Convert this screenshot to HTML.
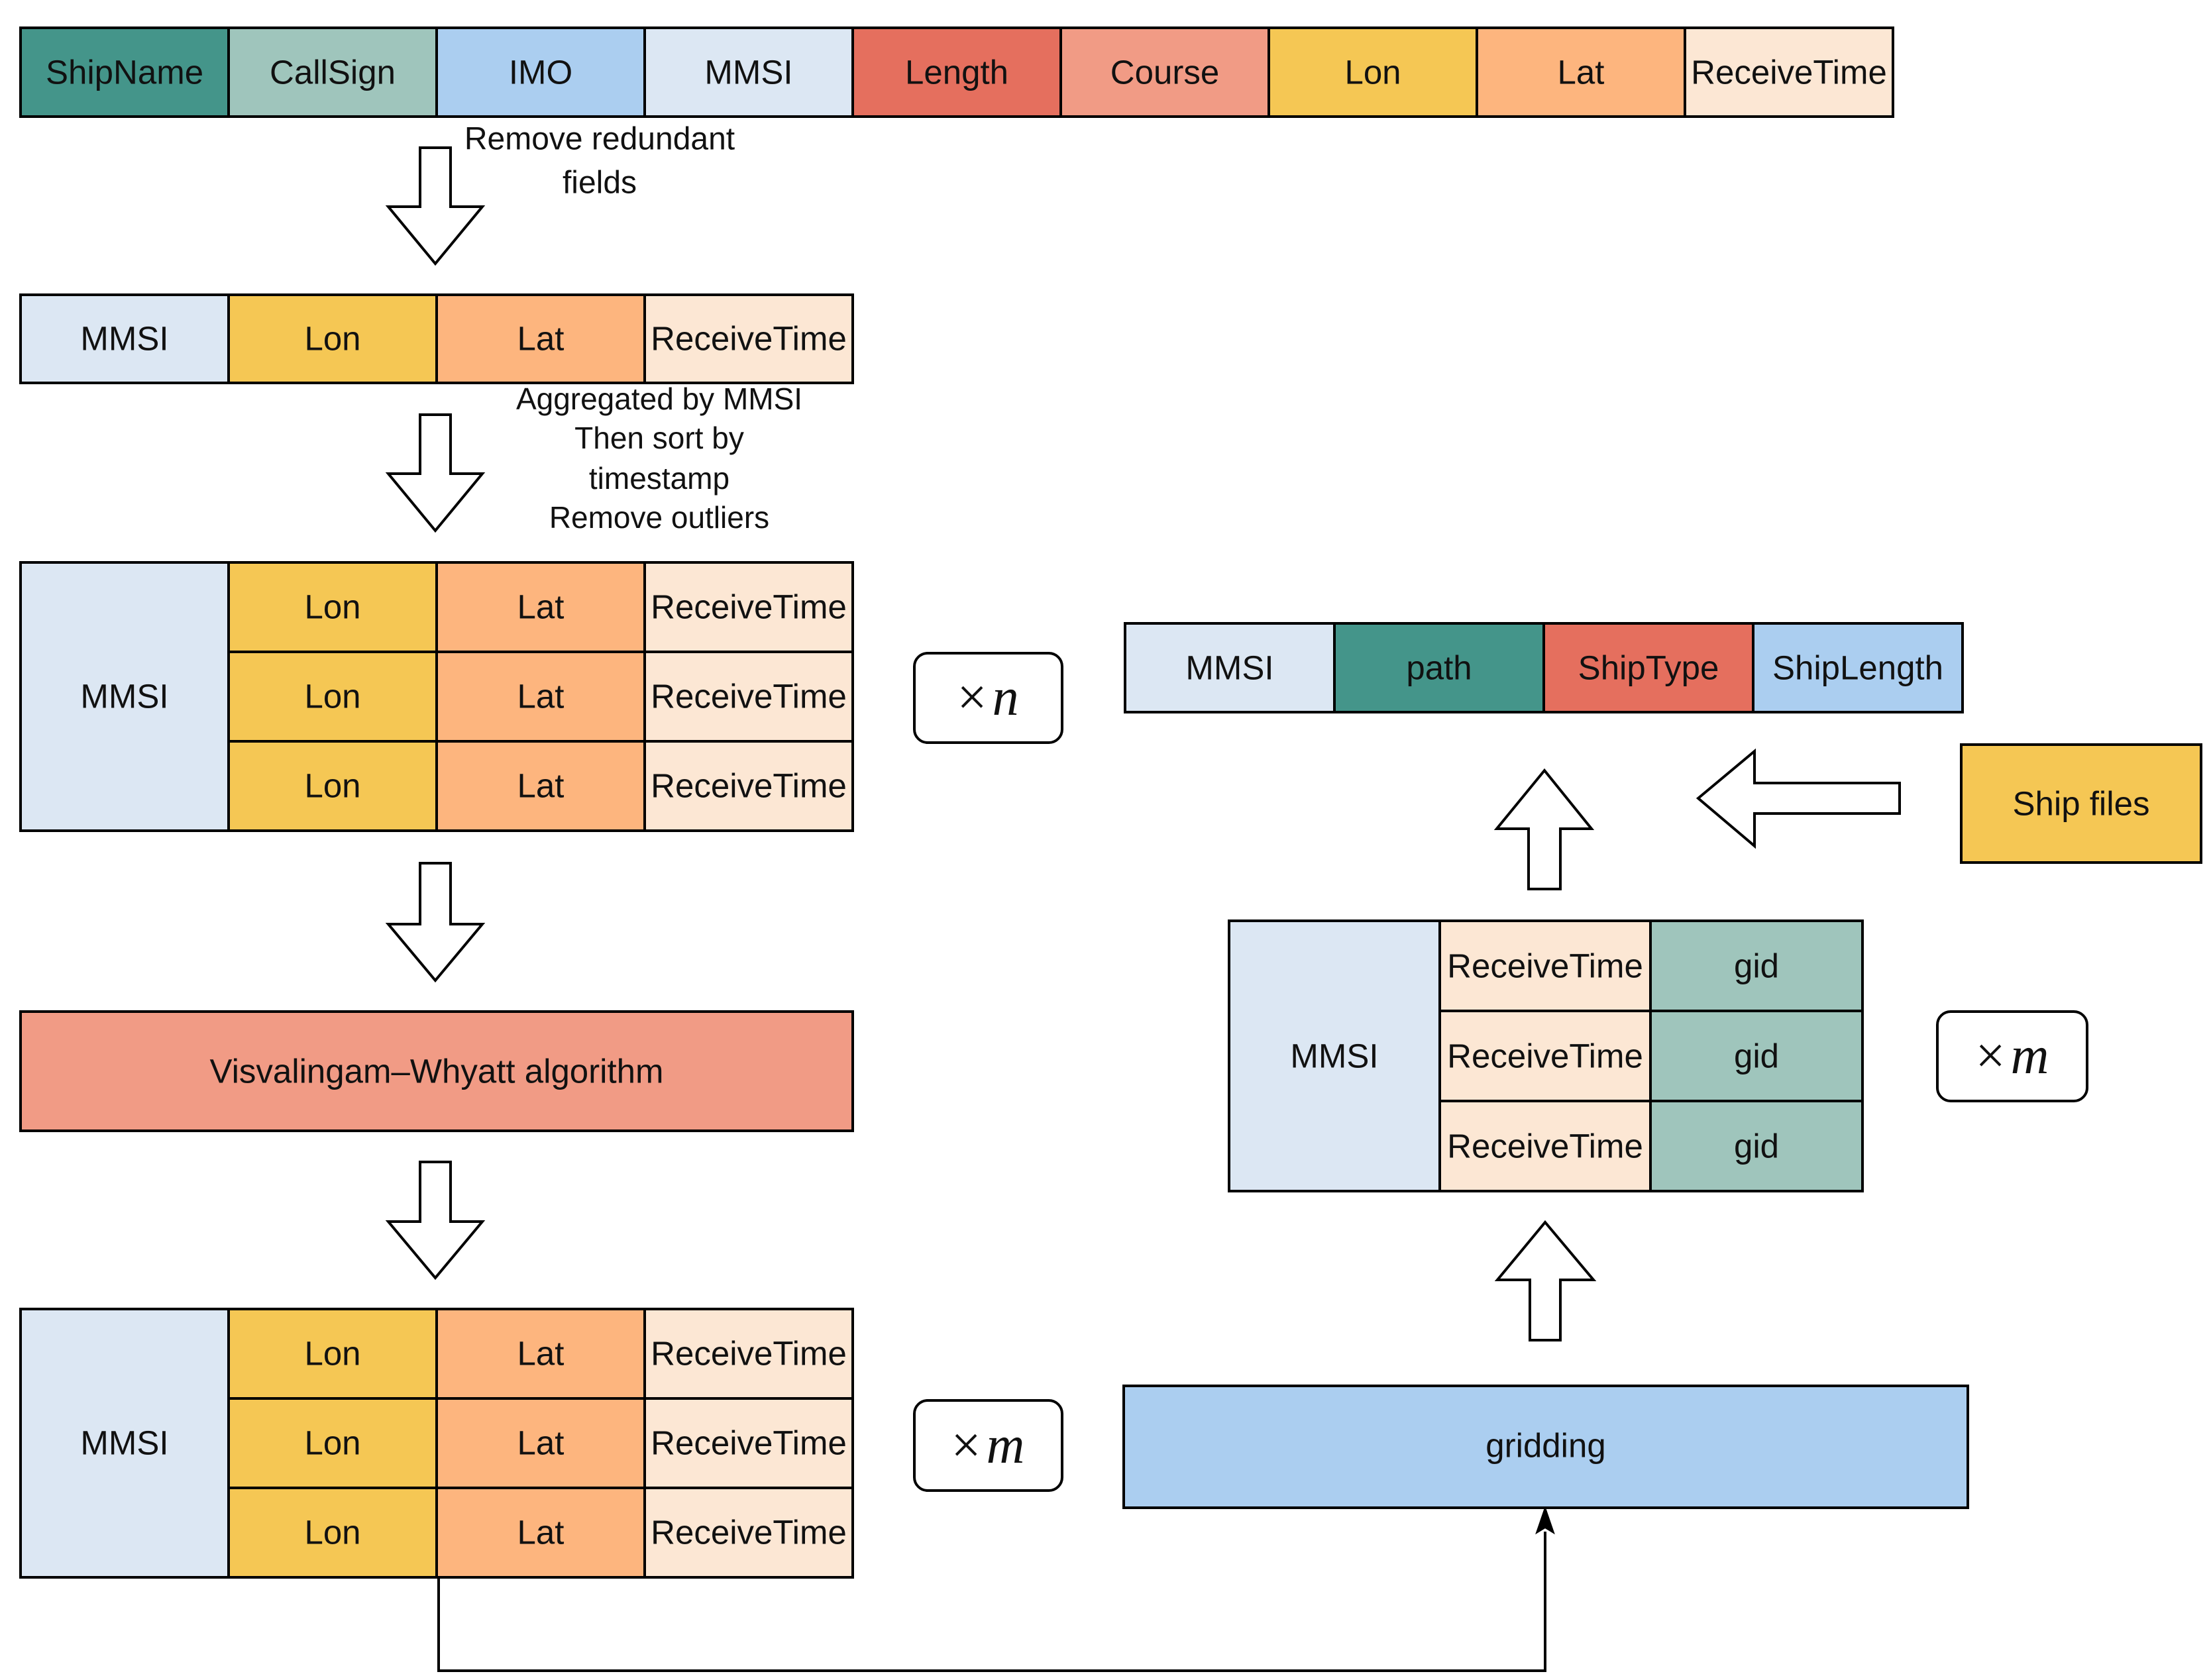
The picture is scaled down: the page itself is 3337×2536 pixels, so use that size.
<!DOCTYPE html>
<html><head><meta charset="utf-8"><style>
html,body{margin:0;padding:0;background:#fff;}
svg{display:block;}
text{font-family:"Liberation Sans",Arial,sans-serif;}
</style></head><body>
<svg width="3337" height="2536" viewBox="0 0 3337 2536" xmlns="http://www.w3.org/2000/svg">
<defs>
<marker id="ah" markerWidth="12" markerHeight="12" refX="10" refY="6" orient="auto" markerUnits="userSpaceOnUse"></marker>
</defs>
<g stroke="#000" stroke-width="4" font-size="51" text-anchor="middle" dominant-baseline="central">
<!-- Row 1 -->
<rect x="31" y="42" width="314" height="134" fill="#44958A"/>
<rect x="345" y="42" width="314" height="134" fill="#9FC5BC"/>
<rect x="659" y="42" width="314" height="134" fill="#ABCEF0"/>
<rect x="973" y="42" width="314" height="134" fill="#DCE7F3"/>
<rect x="1287" y="42" width="314" height="134" fill="#E56F5E"/>
<rect x="1601" y="42" width="314" height="134" fill="#F19B85"/>
<rect x="1915" y="42" width="314" height="134" fill="#F5C754"/>
<rect x="2229" y="42" width="314" height="134" fill="#FDB57E"/>
<rect x="2543" y="42" width="314" height="134" fill="#FCE7D4"/>
<g stroke="none" fill="#111">
<text x="188" y="109">ShipName</text>
<text x="502" y="109">CallSign</text>
<text x="816" y="109">IMO</text>
<text x="1130" y="109">MMSI</text>
<text x="1444" y="109">Length</text>
<text x="1758" y="109">Course</text>
<text x="2072" y="109">Lon</text>
<text x="2386" y="109">Lat</text>
<text x="2700" y="109">ReceiveTime</text>
</g>
<!-- Arrow 1 -->
<polygon points="634,223 680,223 680,312 728,312 657,398 586,312 634,312" fill="#fff"/>
<g stroke="none" fill="#111" font-size="48">
<text x="905" y="210">Remove redundant</text>
<text x="905" y="276">fields</text>
</g>
<!-- Row 2 -->
<rect x="31" y="445" width="314" height="133" fill="#DCE7F3"/>
<rect x="345" y="445" width="314" height="133" fill="#F5C754"/>
<rect x="659" y="445" width="314" height="133" fill="#FDB57E"/>
<rect x="973" y="445" width="314" height="133" fill="#FCE7D4"/>
<g stroke="none" fill="#111">
<text x="188" y="511">MMSI</text>
<text x="502" y="511">Lon</text>
<text x="816" y="511">Lat</text>
<text x="1130" y="511">ReceiveTime</text>
</g>
<!-- Arrow 2 -->
<polygon points="634,626 680,626 680,715 728,715 657,801 586,715 634,715" fill="#fff"/>
<g stroke="none" fill="#111" font-size="46">
<text x="995" y="602">Aggregated by MMSI</text>
<text x="995" y="661">Then sort by</text>
<text x="995" y="722">timestamp</text>
<text x="995" y="781">Remove outliers</text>
</g>
<!-- Row 3 block -->
<rect x="31" y="849" width="314" height="405" fill="#DCE7F3"/>
<rect x="345" y="849" width="314" height="135" fill="#F5C754"/>
<rect x="659" y="849" width="314" height="135" fill="#FDB57E"/>
<rect x="973" y="849" width="314" height="135" fill="#FCE7D4"/>
<rect x="345" y="984" width="314" height="135" fill="#F5C754"/>
<rect x="659" y="984" width="314" height="135" fill="#FDB57E"/>
<rect x="973" y="984" width="314" height="135" fill="#FCE7D4"/>
<rect x="345" y="1119" width="314" height="135" fill="#F5C754"/>
<rect x="659" y="1119" width="314" height="135" fill="#FDB57E"/>
<rect x="973" y="1119" width="314" height="135" fill="#FCE7D4"/>
<g stroke="none" fill="#111">
<text x="188" y="1051">MMSI</text>
<text x="502" y="916">Lon</text><text x="816" y="916">Lat</text><text x="1130" y="916">ReceiveTime</text>
<text x="502" y="1051">Lon</text><text x="816" y="1051">Lat</text><text x="1130" y="1051">ReceiveTime</text>
<text x="502" y="1186">Lon</text><text x="816" y="1186">Lat</text><text x="1130" y="1186">ReceiveTime</text>
</g>
<!-- xn box -->
<rect x="1380" y="986" width="223" height="135" rx="20" fill="#fff"/>
<g stroke="none" fill="#111" font-family="Liberation Serif,serif" font-size="80">
<text x="1491" y="1053" style="font-family:'Liberation Serif',serif"><tspan>×</tspan><tspan font-style="italic" dx="8">n</tspan></text>
</g>
<!-- Arrow 3 -->
<polygon points="634,1303 680,1303 680,1395 728,1395 657,1480 586,1395 634,1395" fill="#fff"/>
<!-- Visvalingam -->
<rect x="31" y="1527" width="1256" height="180" fill="#F19B85"/>
<text x="659" y="1617" stroke="none" fill="#111">Visvalingam–Whyatt algorithm</text>
<!-- Arrow 4 -->
<polygon points="634,1754 680,1754 680,1844 728,1844 657,1929 586,1844 634,1844" fill="#fff"/>
<!-- Row 5 block -->
<rect x="31" y="1976" width="314" height="405" fill="#DCE7F3"/>
<rect x="345" y="1976" width="314" height="135" fill="#F5C754"/>
<rect x="659" y="1976" width="314" height="135" fill="#FDB57E"/>
<rect x="973" y="1976" width="314" height="135" fill="#FCE7D4"/>
<rect x="345" y="2111" width="314" height="135" fill="#F5C754"/>
<rect x="659" y="2111" width="314" height="135" fill="#FDB57E"/>
<rect x="973" y="2111" width="314" height="135" fill="#FCE7D4"/>
<rect x="345" y="2246" width="314" height="135" fill="#F5C754"/>
<rect x="659" y="2246" width="314" height="135" fill="#FDB57E"/>
<rect x="973" y="2246" width="314" height="135" fill="#FCE7D4"/>
<g stroke="none" fill="#111">
<text x="188" y="2178">MMSI</text>
<text x="502" y="2043">Lon</text><text x="816" y="2043">Lat</text><text x="1130" y="2043">ReceiveTime</text>
<text x="502" y="2178">Lon</text><text x="816" y="2178">Lat</text><text x="1130" y="2178">ReceiveTime</text>
<text x="502" y="2313">Lon</text><text x="816" y="2313">Lat</text><text x="1130" y="2313">ReceiveTime</text>
</g>
<!-- xm box left -->
<rect x="1380" y="2114" width="223" height="136" rx="20" fill="#fff"/>
<text x="1491" y="2182" stroke="none" fill="#111" font-size="80" style="font-family:'Liberation Serif',serif"><tspan>×</tspan><tspan font-style="italic" dx="8">m</tspan></text>
<!-- connector -->
<polyline points="662,2381 662,2522 2332,2522 2332,2312" fill="none"/>
<polygon points="2332,2276 2345,2314 2332,2306 2319,2314" fill="#000" stroke-width="2"/>
<!-- gridding -->
<rect x="1696" y="2092" width="1274" height="184" fill="#ABCEF0"/>
<text x="2333" y="2182" stroke="none" fill="#111">gridding</text>
<!-- lower up arrow -->
<polygon points="2332,1845 2405,1932 2355,1932 2355,2023 2309,2023 2309,1932 2260,1932" fill="#fff"/>
<!-- gid table -->
<rect x="1855" y="1390" width="318" height="408" fill="#DCE7F3"/>
<rect x="2173" y="1390" width="318" height="136" fill="#FCE7D4"/>
<rect x="2491" y="1390" width="320" height="136" fill="#9FC5BC"/>
<rect x="2173" y="1526" width="318" height="136" fill="#FCE7D4"/>
<rect x="2491" y="1526" width="320" height="136" fill="#9FC5BC"/>
<rect x="2173" y="1662" width="318" height="136" fill="#FCE7D4"/>
<rect x="2491" y="1662" width="320" height="136" fill="#9FC5BC"/>
<g stroke="none" fill="#111">
<text x="2014" y="1594">MMSI</text>
<text x="2332" y="1458">ReceiveTime</text><text x="2651" y="1458">gid</text>
<text x="2332" y="1594">ReceiveTime</text><text x="2651" y="1594">gid</text>
<text x="2332" y="1730">ReceiveTime</text><text x="2651" y="1730">gid</text>
</g>
<!-- xm right -->
<rect x="2924" y="1527" width="226" height="135" rx="20" fill="#fff"/>
<text x="3037" y="1594" stroke="none" fill="#111" font-size="80" style="font-family:'Liberation Serif',serif"><tspan>×</tspan><tspan font-style="italic" dx="8">m</tspan></text>
<!-- upper up arrow -->
<polygon points="2331,1163 2402,1251 2355,1251 2355,1342 2307,1342 2307,1251 2259,1251" fill="#fff"/>
<!-- left arrow -->
<polygon points="2563,1205 2648,1134 2648,1182 2867,1182 2867,1228 2648,1228 2648,1277" fill="#fff"/>
<!-- Ship files -->
<rect x="2960" y="1124" width="362" height="178" fill="#F5C754"/>
<text x="3141" y="1213" stroke="none" fill="#111">Ship files</text>
<!-- Top-right row -->
<rect x="1698" y="941" width="316" height="134" fill="#DCE7F3"/>
<rect x="2014" y="941" width="316" height="134" fill="#44958A"/>
<rect x="2330" y="941" width="316" height="134" fill="#E56F5E"/>
<rect x="2646" y="941" width="316" height="134" fill="#ABCEF0"/>
<g stroke="none" fill="#111">
<text x="1856" y="1008">MMSI</text>
<text x="2172" y="1008">path</text>
<text x="2488" y="1008">ShipType</text>
<text x="2804" y="1008">ShipLength</text>
</g>
</g>
</svg>
</body></html>
